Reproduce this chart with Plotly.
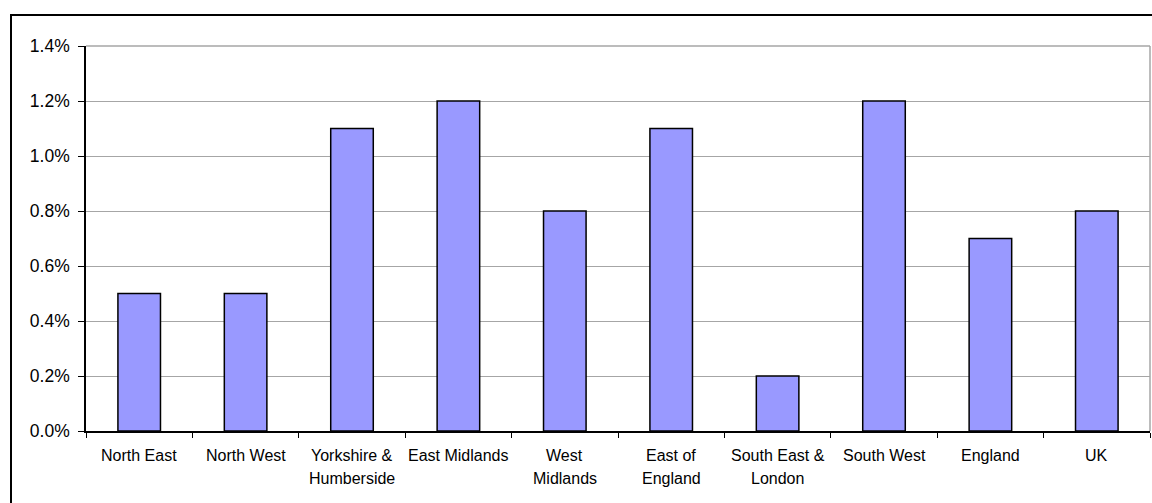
import plotly.graph_objects as go

categories = ["North East", "North West", "Yorkshire &<br>Humberside", "East Midlands",
              "West<br>Midlands", "East of<br>England", "South East &<br>London",
              "South West", "England", "UK"]
values = [0.005, 0.005, 0.011, 0.012, 0.008, 0.011, 0.002, 0.012, 0.007, 0.008]
y_ticks = [0, 0.002, 0.004, 0.006, 0.008, 0.010, 0.012, 0.014]

W, H = 1152, 503
L, R, T, B = 86, 1150, 46, 431

fig = go.Figure(go.Bar(
    x=categories, y=values,
    marker=dict(color="#9999FF", line=dict(color="black", width=1.5)),
    width=0.4,
))

pw, ph = R - L, B - T
def px(x):
    return (x - L) / pw
def py(y):
    return (B - y) / ph

# category labels: one annotation per text line, Excel-like line spacing
annotations = []
for cat in categories:
    for i, line in enumerate(cat.split("<br>")):
        annotations.append(dict(
            x=cat, xref="x", y=0, yref="paper", yanchor="top", xanchor="center",
            yshift=-(15 + 22.5 * i), text=line, showarrow=False, borderpad=0,
            font=dict(size=16, color="black", family="Liberation Sans, Arial"),
        ))

fig.update_layout(
    width=W, height=H,
    margin=dict(l=L, r=W - R, t=T, b=H - B, pad=0),
    paper_bgcolor="white", plot_bgcolor="white",
    showlegend=False,
    font=dict(family="Liberation Sans, Arial", color="black"),
    xaxis=dict(
        type="category", showline=True, linecolor="black", linewidth=1.5,
        ticks="outside", tickson="boundaries", ticklen=5, tickcolor="black", tickwidth=1,
        showticklabels=False, showgrid=False,
    ),
    yaxis=dict(
        range=[0, 0.014], tickvals=y_ticks, tickformat=".1%",
        showline=True, linecolor="black", linewidth=1.5,
        ticks="outside", ticklen=6, tickcolor="black", tickwidth=1,
        tickfont=dict(size=17.5), showgrid=True, gridcolor="#a6a6a6", gridwidth=1,
        zeroline=False, ticklabelstandoff=5,
    ),
    annotations=annotations,
    shapes=[
        dict(type="rect", xref="paper", yref="paper",
             x0=px(11), x1=px(1170), y0=py(15), y1=py(540),
             line=dict(color="black", width=2), fillcolor="rgba(0,0,0,0)", layer="below"),
        dict(type="line", xref="paper", yref="paper", x0=1, x1=1, y0=0, y1=1,
             line=dict(color="#a6a6a6", width=1.5)),
        dict(type="line", xref="paper", yref="paper", x0=0, x1=1, y0=1, y1=1,
             line=dict(color="#a6a6a6", width=1.5)),
    ],
)

fig.write_html("out.html")
